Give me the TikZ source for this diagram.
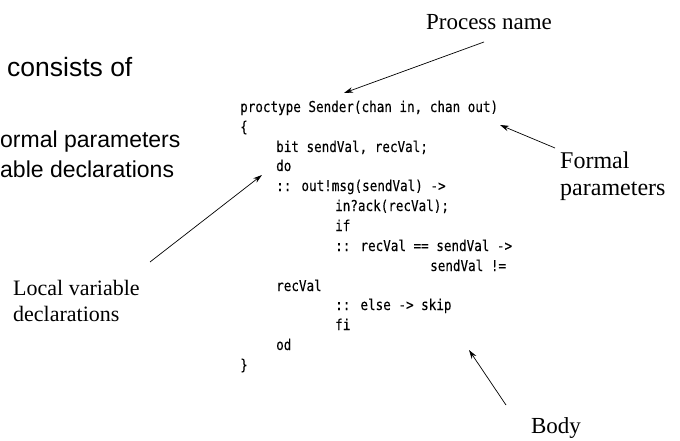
\documentclass[tikz,border=0pt]{standalone}
\usepackage{fontspec}
\setmainfont{Liberation Serif}
\newfontfamily\slidefont{Liberation Sans}
\newfontfamily\codefont[FakeStretch=0.84,FakeBold=0.12]{DejaVu Sans Mono}
\usetikzlibrary{arrows.meta}
\tikzset{
  code/.style={anchor=base west, inner sep=0pt, font=\codefont\fontsize{15}{16}\selectfont},
  slide/.style={anchor=base west, inner sep=0pt, font=\slidefont\fontsize{23}{26}\selectfont},
  callout/.style={inner sep=0pt, font=\fontsize{23}{26.5}\selectfont, align=left},
  pointer/.style={-{Stealth[length=9pt,width=5.5pt]}, line width=0.7pt}
}
\begin{document}
\begin{tikzpicture}[x=1pt,y=-1pt]
\useasboundingbox (0,0) rectangle (680,441);
% slide text, cut at the left edge
\node[slide, font=\slidefont\fontsize{26.5}{30}\selectfont] (s1) at (7,77) {consists of};
\node[slide] (s2) at (0,148) {ormal parameters};
\node[slide] (s3) at (0,178) {able declarations};
% the Promela process
\node[code] (c1)  at (240,112) {proctype Sender(chan in, chan out)};
\node[code] (c2)  at (240,132) {\{};
\node[code] (c3)  at (276,152) {bit sendVal, recVal;};
\node[code] (c4)  at (276,171) {do};
\node[code] (c5)  at (276,191) {:: out!msg(sendVal) ->};
\node[code] (c6)  at (335,211) {in?ack(recVal);};
\node[code] (c7)  at (335,231) {if};
\node[code] (c8)  at (335,251) {:: recVal == sendVal ->};
\node[code] (c9)  at (430,271) {sendVal !=};
\node[code] (c10) at (276,291) {recVal};
\node[code] (c11) at (335,310) {:: else -> skip};
\node[code] (c12) at (335,330) {fi};
\node[code] (c13) at (276,350) {od};
\node[code] (c14) at (240,370) {\}};
% callout labels
\node[callout] (pn) at (489,22) {Process name};
\node[callout, anchor=west, font=\fontsize{24}{27}\selectfont] (fp) at (560,176) {Formal\\parameters};
\node[callout, anchor=west, font=\fontsize{22}{26}\selectfont] (lv) at (13,301) {Local variable\\declarations};
\node[callout] (bd) at (556,428) {Body};
% pointer ends
\coordinate (pnTip) at (344,93);
\coordinate (pnTail) at (484,42);
\coordinate (fpTip) at (500,125);
\coordinate (fpTail) at (555,148);
\coordinate (lvTip) at (262,175);
\coordinate (lvTail) at (150,262);
\coordinate (bdTip) at (469,350);
\coordinate (bdTail) at (506,405);
\draw[pointer] (pnTail) -- (pnTip);
\draw[pointer] (fpTail) -- (fpTip);
\draw[pointer] (lvTail) -- (lvTip);
\draw[pointer] (bdTail) -- (bdTip);
\end{tikzpicture}
\end{document}
